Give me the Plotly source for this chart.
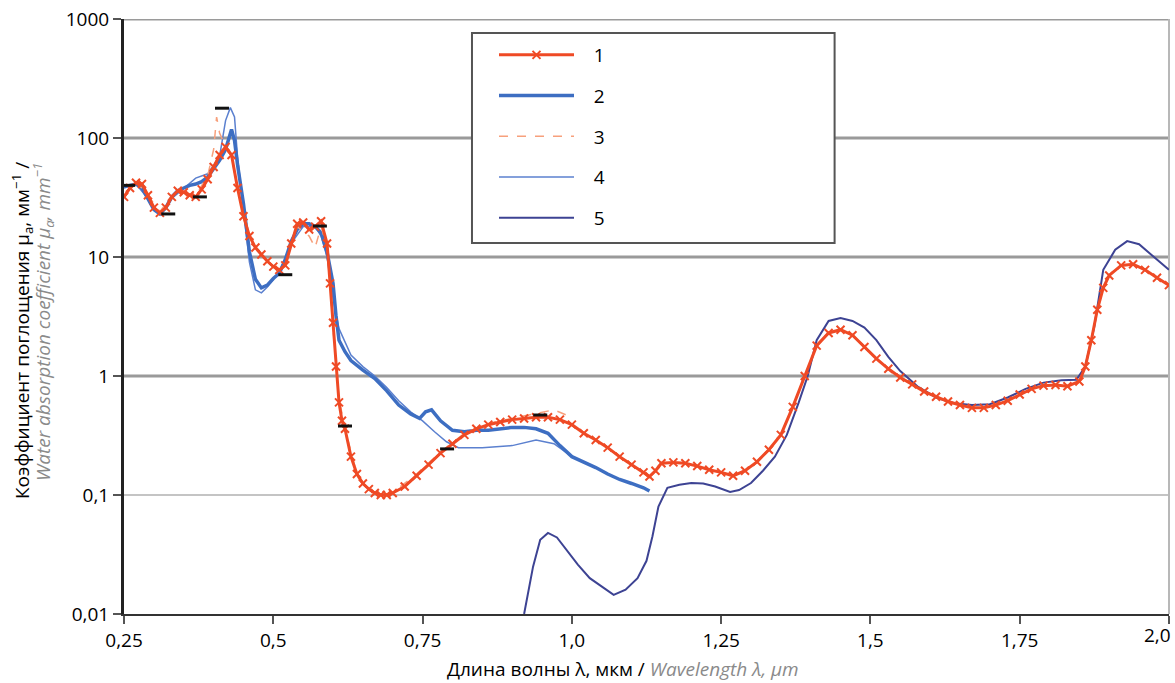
import plotly.graph_objects as go

# ---- data ----
X1 = [0.25,0.26,0.27,0.28,0.29,0.30,0.31,0.32,0.33,0.34,0.35,0.36,0.37,0.38,0.39,0.40,0.41,0.42,0.43,0.44,0.45,0.46,0.47,0.48,0.49,0.50,0.51,0.52,0.53,0.54,0.55,0.56,0.57,0.58,0.59,0.595,0.60,0.605,0.61,0.615,0.62,0.63,0.64,0.65,0.66,0.67,0.68,0.69,0.70,0.72,0.74,0.76,0.78,0.80,0.82,0.84,0.86,0.88,0.90,0.92,0.94,0.96,0.98,1.00,1.02,1.04,1.06,1.08,1.10,1.12,1.13,1.14,1.15,1.17,1.19,1.21,1.23,1.25,1.27,1.29,1.31,1.33,1.35,1.37,1.39,1.41,1.43,1.45,1.47,1.49,1.51,1.53,1.55,1.57,1.59,1.61,1.63,1.65,1.67,1.69,1.71,1.73,1.75,1.77,1.79,1.81,1.83,1.85,1.86,1.87,1.88,1.89,1.90,1.92,1.94,1.96,1.98,2.00]
Y1 = [32,38,42,41,33,26,23.5,26,32,36,35,33,32,37,45,57,72,84,72,38,22,15,12,10.5,9.2,8.3,7.8,8.5,13,19,19.5,17,18,20,13,6,2.8,1.2,0.6,0.42,0.36,0.21,0.15,0.125,0.112,0.104,0.1,0.1,0.104,0.118,0.145,0.18,0.225,0.27,0.32,0.36,0.39,0.41,0.43,0.44,0.45,0.45,0.43,0.39,0.33,0.29,0.25,0.21,0.18,0.155,0.143,0.16,0.185,0.188,0.185,0.175,0.163,0.155,0.145,0.16,0.19,0.24,0.32,0.55,1.0,1.8,2.3,2.45,2.2,1.75,1.4,1.15,0.97,0.85,0.74,0.67,0.61,0.57,0.54,0.54,0.57,0.62,0.7,0.78,0.83,0.84,0.82,0.9,1.2,2.0,3.6,5.5,7.0,8.5,8.7,7.8,6.7,5.8]

X2 = [0.25,0.26,0.27,0.28,0.29,0.30,0.31,0.32,0.33,0.34,0.35,0.36,0.37,0.38,0.39,0.40,0.41,0.42,0.425,0.43,0.435,0.44,0.45,0.46,0.47,0.48,0.49,0.50,0.51,0.52,0.53,0.54,0.55,0.56,0.57,0.58,0.59,0.60,0.605,0.61,0.62,0.63,0.65,0.67,0.69,0.71,0.73,0.745,0.755,0.765,0.78,0.80,0.82,0.84,0.86,0.88,0.90,0.92,0.94,0.96,0.98,1.00,1.02,1.04,1.06,1.08,1.10,1.12,1.13]
Y2 = [39,40,41,38,31,25,23,26,32,36,38,40,41,43,47,55,65,80,100,118,95,60,28,11,6.5,5.5,5.8,6.6,7.3,9.5,13.5,17,19,19,18,16,11,6,3.2,2.0,1.6,1.35,1.12,0.95,0.75,0.57,0.48,0.44,0.5,0.52,0.42,0.35,0.34,0.35,0.35,0.36,0.37,0.37,0.36,0.33,0.26,0.21,0.19,0.17,0.15,0.135,0.125,0.115,0.108]

X3 = [0.25,0.27,0.29,0.31,0.33,0.35,0.37,0.39,0.40,0.405,0.41,0.42,0.43,0.44,0.46,0.48,0.50,0.52,0.54,0.56,0.57,0.58,0.59,0.60,0.61,0.62,0.64,0.66,0.68,0.70,0.74,0.78,0.82,0.86,0.90,0.94,0.97,1.00]
Y3 = [33,43,33,24,33,35,33,48,80,150,110,85,70,37,15,10.5,8.2,8.5,18,15,12,18,12,2.5,0.65,0.36,0.15,0.11,0.1,0.105,0.15,0.23,0.33,0.4,0.44,0.48,0.52,0.45]

X4 = [0.25,0.27,0.29,0.31,0.33,0.35,0.37,0.39,0.41,0.42,0.428,0.435,0.44,0.45,0.46,0.47,0.48,0.49,0.50,0.51,0.53,0.55,0.57,0.58,0.59,0.60,0.61,0.63,0.65,0.67,0.69,0.71,0.73,0.75,0.77,0.79,0.81,0.85,0.90,0.94,0.97,1.0]
Y4 = [38,41,31,23,31,38,46,50,70,140,180,150,70,25,9,5.3,5.0,5.6,6.5,7.5,13,18,18,15,10,4.5,2.5,1.5,1.2,1.0,0.8,0.62,0.5,0.42,0.34,0.28,0.25,0.25,0.26,0.29,0.27,0.21]

X5 = [0.92,0.935,0.947,0.96,0.975,0.99,1.01,1.03,1.05,1.07,1.09,1.11,1.125,1.135,1.145,1.16,1.18,1.20,1.22,1.24,1.265,1.28,1.30,1.32,1.34,1.36,1.38,1.395,1.41,1.43,1.45,1.47,1.49,1.51,1.53,1.55,1.58,1.61,1.64,1.67,1.70,1.73,1.76,1.79,1.82,1.845,1.86,1.875,1.89,1.91,1.93,1.95,1.97,2.0]
Y5 = [0.01,0.025,0.042,0.048,0.044,0.035,0.026,0.02,0.017,0.0145,0.016,0.02,0.028,0.045,0.08,0.115,0.122,0.126,0.125,0.118,0.106,0.11,0.126,0.16,0.21,0.32,0.6,1.0,2.0,2.9,3.07,2.9,2.55,2.0,1.45,1.1,0.81,0.66,0.59,0.57,0.58,0.66,0.78,0.88,0.92,0.93,1.2,2.6,7.8,11.5,13.6,12.8,10.5,7.8]

ERR_X = [0.257,0.324,0.377,0.414,0.52,0.578,0.62,0.791,0.947]
ERR_Y = [40,23,32,178,7.1,18.2,0.38,0.244,0.47]

SERIES_NAMES = ["1", "2", "3", "4", "5"]
X_TICKS = [0.25,0.5,0.75,1.0,1.25,1.5,1.75,2.0]
X_TICKTEXT = ["0,25","0,5","0,75","1,0","1,25","1,5","1,75","2,0"]
Y_TICKS = [0.01,0.1,1,10,100,1000]
Y_TICKTEXT = ["0,01","0,1","1","10","100","1000"]
GRID_MAJOR = [1,10,100,1000]
GRID_MINOR = [0.1]

FONT = "Open Sans"
FS = 19
GREY_TXT = "#8a8a8a"
NB = "\u00a0\u00a0\u00a0"

fig = go.Figure()

fig.add_trace(go.Scatter(x=X5, y=Y5, name=NB + SERIES_NAMES[4], mode="lines",
                         line=dict(color="#3d4393", width=2), legendgroup="5", legendrank=5))
fig.add_trace(go.Scatter(x=X4, y=Y4, name=NB + SERIES_NAMES[3], mode="lines",
                         line=dict(color="#5b80cf", width=1.5), legendgroup="4", legendrank=4))
fig.add_trace(go.Scatter(x=X2, y=Y2, name=NB + SERIES_NAMES[1], mode="lines",
                         line=dict(color="#3d6ec2", width=3.5), legendgroup="2", legendrank=2))
fig.add_trace(go.Scatter(x=X3, y=Y3, name=NB + SERIES_NAMES[2], mode="lines",
                         line=dict(color="#f7a07c", width=1.5, dash="dash"), legendgroup="3", legendrank=3))
fig.add_trace(go.Scatter(x=X1, y=Y1, name=NB + SERIES_NAMES[0], mode="lines+markers",
                         line=dict(color="#ef4a25", width=3),
                         marker=dict(symbol="x-thin", size=8, line=dict(color="#ef4a25", width=2)),
                         legendgroup="1", legendrank=1))
fig.add_trace(go.Scatter(x=ERR_X, y=ERR_Y, mode="markers", showlegend=False,
                         marker=dict(symbol="line-ew", size=10, line=dict(color="#111", width=3))))

shapes = []
for g in GRID_MAJOR:
    shapes.append(dict(type="line", xref="paper", x0=0, x1=1, yref="y", y0=g, y1=g,
                       line=dict(color="#9a9a9a", width=3), layer="below"))
for g in GRID_MINOR:
    shapes.append(dict(type="line", xref="paper", x0=0, x1=1, yref="y", y0=g, y1=g,
                       line=dict(color="#c4c4c4", width=2), layer="below"))
shapes.append(dict(type="line", xref="paper", x0=1, x1=1, yref="paper", y0=0, y1=1,
                   line=dict(color="#b8b8b8", width=2), layer="below"))
# legend frame
shapes.append(dict(type="rect", xref="paper", yref="paper", x0=0.333, x1=0.680, y0=0.6235, y1=0.9765,
                   fillcolor="white", line=dict(color="#555555", width=2), layer="above"))

annotations = [
    dict(text="Длина волны λ, мкм / <i><span style='color:%s'>Wavelength λ, µm</span></i>" % GREY_TXT,
         xref="paper", yref="paper", x=(623 - 124) / 1045, y=(614 - 669) / 595,
         xanchor="center", yanchor="middle", showarrow=False, font=dict(size=FS)),
    dict(text="Коэффициент поглощения μ<sub>a</sub>, мм<sup>−1</sup> /",
         xref="paper", yref="paper", x=(22 - 124) / 1045, y=(614 - 331) / 595, textangle=-90,
         xanchor="center", yanchor="middle", showarrow=False, font=dict(size=FS)),
    dict(text="<i><span style='color:%s'>Water absorption coefficient μ<sub>a</sub>, mm<sup>−1</sup></span></i>" % GREY_TXT,
         xref="paper", yref="paper", x=(43 - 124) / 1045, y=(614 - 322) / 595, textangle=-90,
         xanchor="center", yanchor="middle", showarrow=False, font=dict(size=FS)),
    # last x tick label, kept inside the page like the reference
    dict(text=X_TICKTEXT[-1], xref="paper", yref="paper", x=(1173 - 124) / 1045, y=(614 - 635) / 595,
         xanchor="right", yanchor="middle", showarrow=False, font=dict(size=FS)),
]

fig.update_layout(
    width=1175, height=683,
    margin=dict(l=124, r=6, t=19, b=69, autoexpand=False),
    paper_bgcolor="white", plot_bgcolor="white",
    font=dict(family=FONT, size=FS, color="black"),
    shapes=shapes,
    annotations=annotations,
    showlegend=True,
    legend=dict(x=(494 - 124) / 1045, y=(614 - 36) / 595, xanchor="left", yanchor="top",
                bgcolor="rgba(0,0,0,0)", borderwidth=0,
                font=dict(size=FS), itemwidth=75,
                tracegroupgap=13, traceorder="grouped"),
    xaxis=dict(range=[0.2499, 2.0001], tickvals=X_TICKS, ticktext=X_TICKTEXT[:-1] + [""], automargin=False,
               showgrid=False, zeroline=False, showline=True, linecolor="#333", linewidth=2,
               ticks="outside", ticklen=8, tickwidth=2, tickcolor="#555",
               tickfont=dict(size=FS)),
    yaxis=dict(type="log", range=[-2, 3], tickvals=Y_TICKS, ticktext=Y_TICKTEXT, automargin=False,
               showgrid=False, zeroline=False, showline=True, linecolor="#222", linewidth=3,
               ticks="outside", ticklen=8, tickwidth=2, tickcolor="#555",
               tickfont=dict(size=FS)),
)

fig.write_html("out.html", config={"displayModeBar": False},
               post_script="document.body.style.margin='0';document.body.style.padding='0';document.body.style.overflow='hidden';")
